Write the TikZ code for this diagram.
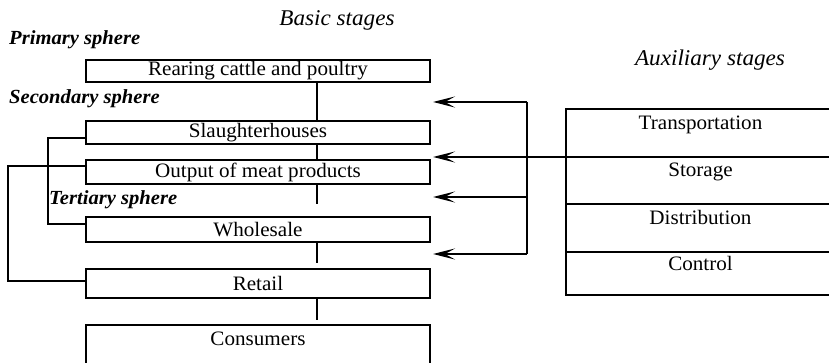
\documentclass[tikz,border=0pt]{standalone}
\usepackage{fontspec}
\setmainfont[FakeStretch=1.03]{Liberation Serif}
\usetikzlibrary{arrows.meta,calc}
\begin{document}
\begin{tikzpicture}[x=1pt,y=-1pt,
  box/.style={draw, line width=1.9pt, minimum width=344pt, inner sep=0pt, outer sep=0pt, font=\fontsize{20.5}{22}\selectfont},
  cell/.style={draw, line width=1.9pt, minimum width=269pt, inner sep=0pt, outer sep=0pt, text height=13pt, text depth=20pt, font=\fontsize{20.5}{22}\selectfont},
  sphere/.style={anchor=west, inner sep=0pt, font=\fontsize{20}{22}\selectfont\bfseries\itshape},
  stagehead/.style={inner sep=0pt, font=\fontsize{22.5}{24}\selectfont\itshape},
  conn/.style={line width=1.6pt},
  arr/.style={line width=1.6pt, -{Stealth[length=22pt,width=11pt,inset=10pt]}}
]
\useasboundingbox (0,0) rectangle (829,363);
\clip (0,0) rectangle (829,363);

% headings
\node[stagehead] (basic) at (337,20) {Basic stages};
\node[stagehead] (aux) at (710,60) {Auxiliary stages};
\node[sphere] (prim) at (9,40) {Primary sphere};
\node[sphere] (sec) at (9,99) {Secondary sphere};
\node[sphere] (ter) at (49,200) {Tertiary sphere};

% basic stages
\node[box, minimum height=22pt] (rear) at (258,71) {Rearing cattle and poultry};
\node[box, minimum height=23pt] (slau) at (258,132.5) {Slaughterhouses};
\node[box, minimum height=24pt] (outp) at (258,172) {Output of meat products};
\node[box, minimum height=25pt] (whol) at (258,229.5) {Wholesale};
\node[box, minimum height=29pt] (ret) at (258,283.5) {Retail};
\node[box, minimum height=55pt, text height=13pt, text depth=28pt] (cons) at (258,352.5) {Consumers};

% auxiliary stages
\node[cell, minimum height=48pt] (trans) at (700.5,133) {Transportation};
\node[cell, minimum height=47pt] (stor) at (700.5,180.5) {Storage};
\node[cell, minimum height=48pt] (dist) at (700.5,228) {Distribution};
\node[cell, minimum height=43pt] (ctrl) at (700.5,273.5) {Control};

% vertical chain
\coordinate (cx) at (317,0);
\coordinate (e1) at (317,204);
\coordinate (e2) at (317,263);
\coordinate (e3) at (317,320);
\draw[conn] (rear.south -| cx) -- (slau.north -| cx);
\draw[conn] (slau.south -| cx) -- (outp.north -| cx);
\draw[conn] (outp.south -| cx) -- (e1);
\draw[conn] (whol.south -| cx) -- (e2);
\draw[conn] (ret.south -| cx) -- (e3);

% left bypass connectors
\coordinate (l1) at (48,0);
\coordinate (l2) at (8,0);
\coordinate (sA) at ([yshift=-5.5pt]slau.west);
\coordinate (wA) at ([yshift=5.5pt]whol.west);
\coordinate (oA) at ([yshift=6pt]outp.west);
\coordinate (rA) at ([yshift=2.5pt]ret.west);
\draw[conn] (sA) -- (sA -| l1) -- (wA -| l1) -- (wA);
\draw[conn] (oA) -- (oA -| l2) -- (rA -| l2) -- (rA);

% auxiliary arrows
\coordinate (vtop) at (527,102);
\coordinate (vbot) at (527,254);
\coordinate (vmid) at (527,197);
\coordinate (t1) at (433,102);
\coordinate (t2) at (433,157);
\coordinate (t3) at (433,197);
\coordinate (t4) at (433,254);
\draw[conn] (vtop) -- (vbot);
\draw[arr] (vtop) -- (t1);
\draw[arr] (trans.south west) -- (t2);
\draw[arr] (vmid) -- (t3);
\draw[arr] (vbot) -- (t4);
\end{tikzpicture}
\end{document}
